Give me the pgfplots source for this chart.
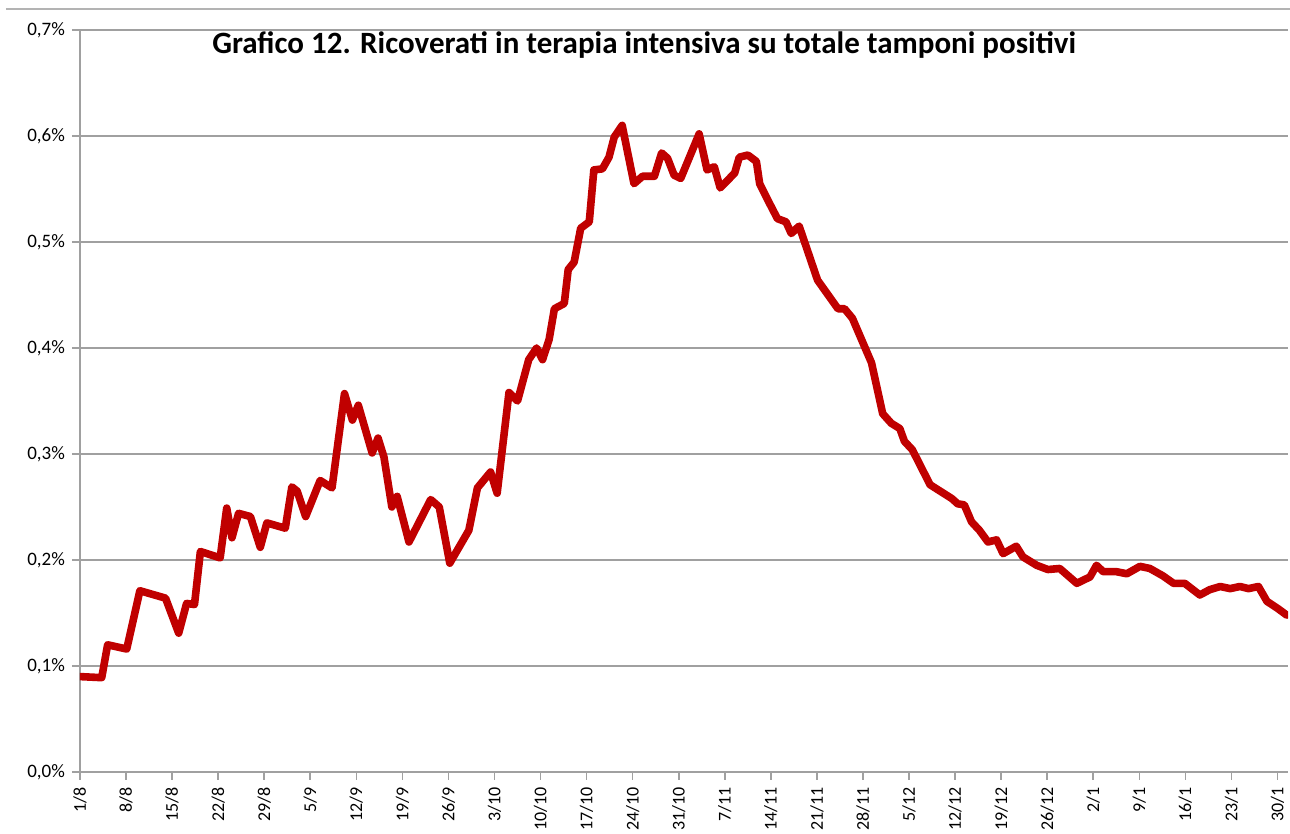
\documentclass[border=0pt]{standalone}
\usepackage{fontspec}
\setmainfont{Carlito}
\usepackage{pgfplots}
\usepackage{pgfplotstable}
\pgfplotsset{compat=1.18}
\definecolor{linered}{RGB}{192,0,0}
\definecolor{gridgray}{RGB}{160,160,160}
\pgfplotstableread{
day val
0 0.090
3.3 0.089
4.2 0.120
7.1 0.116
9.1 0.171
13 0.164
15 0.131
16.2 0.159
17.4 0.158
18.3 0.208
21.3 0.202
22.3 0.249
23.1 0.221
24.1 0.244
25.9 0.241
27.4 0.212
28.4 0.235
31.2 0.230
32.2 0.269
33.0 0.265
34.3 0.241
36.5 0.275
38.3 0.268
40.2 0.357
41.4 0.332
42.3 0.346
44.4 0.301
45.3 0.315
46.2 0.297
47.4 0.250
48.2 0.260
50.0 0.217
53.3 0.257
54.6 0.250
56.2 0.197
59.1 0.228
60.4 0.268
62.4 0.283
63.4 0.263
65.2 0.358
66.5 0.350
68.2 0.389
69.4 0.400
70.3 0.389
71.3 0.408
72.1 0.437
73.6 0.442
74.2 0.474
75.1 0.481
76.1 0.513
77.4 0.519
78.1 0.568
79.4 0.569
80.4 0.580
81.2 0.599
82.4 0.610
84.2 0.555
85.5 0.562
87.3 0.562
88.4 0.584
89.3 0.579
90.3 0.563
91.3 0.560
94.1 0.602
95.3 0.568
96.4 0.571
97.3 0.551
99.5 0.565
100.2 0.580
101.5 0.582
102.8 0.576
103.3 0.555
104.5 0.540
106.0 0.522
107.3 0.519
108.1 0.508
109.3 0.515
112.1 0.464
115.2 0.437
116.2 0.437
117.4 0.428
120.3 0.386
122.0 0.338
123.3 0.329
124.6 0.324
125.3 0.312
126.5 0.304
129.2 0.271
132.5 0.258
133.4 0.253
134.4 0.252
135.5 0.236
136.7 0.228
138.0 0.217
139.3 0.219
140.3 0.206
142.3 0.213
143.3 0.203
145.4 0.195
147.1 0.191
148.9 0.192
151.5 0.178
153.5 0.184
154.5 0.195
155.5 0.189
157.5 0.189
159.1 0.187
161.1 0.194
162.6 0.192
164.6 0.185
166.2 0.178
167.9 0.178
170.2 0.167
171.7 0.172
173.3 0.175
174.8 0.173
176.3 0.175
177.6 0.173
179.1 0.175
180.4 0.161
182.1 0.154
183.4 0.148
}\datatable
\begin{document}
\begin{tikzpicture}
\path[use as bounding box] (-40pt,-31pt) rectangle (605pt,386pt);
\begin{axis}[
  at={(0pt,0pt)}, anchor=south west,
  scale only axis, width=604pt, height=371pt,
  xmin=0, xmax=183.6, ymin=0, ymax=0.7,
  axis x line*=bottom, axis y line*=left,
  axis line style={gridgray, line width=0.8pt, -},
  ytick={0,0.1,0.2,0.3,0.4,0.5,0.6,0.7},
  yticklabels={{0,0\%},{0,1\%},{0,2\%},{0,3\%},{0,4\%},{0,5\%},{0,6\%},{0,7\%}},
  xtick={0,7,...,182},
  xticklabels={1/8,8/8,15/8,22/8,29/8,5/9,12/9,19/9,26/9,3/10,10/10,17/10,24/10,31/10,7/11,14/11,21/11,28/11,5/12,12/12,19/12,26/12,2/1,9/1,16/1,23/1,30/1},
  x tick label style={rotate=90, anchor=east, font=\fontsize{9}{10}\selectfont},
  y tick label style={font=\fontsize{9.5}{11}\selectfont},
  ymajorgrids, grid style={gridgray, line width=0.8pt},
  tick align=outside, major tick length=4pt,
  tick style={gridgray, line width=0.8pt},
]
\addplot[linered, line width=3.8pt, line join=round, line cap=round] table[x=day, y=val] {\datatable};
\node[font=\bfseries\fontsize{15.5}{18}\selectfont] at (rel axis cs:0.467,0.98) {Grafico 12. Ricoverati in terapia intensiva su totale tamponi positivi};
\end{axis}
\draw[gridgray!80, line width=0.6pt] (-37pt,381.5pt) -- (605pt,381.5pt);
\end{tikzpicture}
\end{document}
